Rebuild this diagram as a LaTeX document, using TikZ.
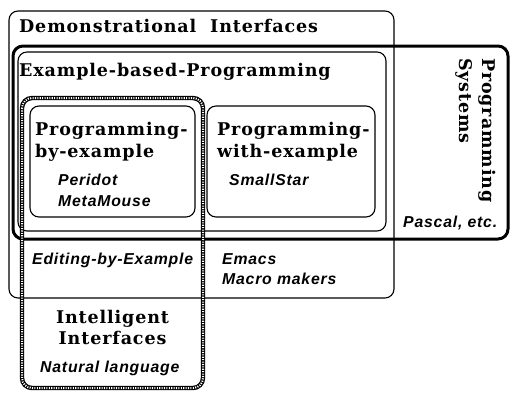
\documentclass[tikz,border=0pt]{standalone}
\usepackage{fontspec}
\newfontfamily\hvfont[LetterSpace=5]{Liberation Sans}
\newfontfamily\serfont[LetterSpace=5]{DejaVu Serif}
\begin{document}
\begin{tikzpicture}[x=1pt,y=-1pt,
  thinbox/.style={draw, line width=1.1pt, rounded corners=9pt},
  progbox/.style={draw, line width=3pt, rounded corners=10pt},
  ttl/.style={font=\serfont\fontsize{17.5}{20}\selectfont\bfseries, anchor=base west, inner sep=0pt},
  ex/.style={font=\hvfont\fontsize{15.8}{18}\selectfont\bfseries\itshape, anchor=base west, inner sep=0pt}]
\useasboundingbox (0,0) rectangle (510,392);
% Demonstrational Interfaces
\draw[thinbox] (9,11) rectangle (394,298);
% Programming Systems
\draw[progbox] (13,46) rectangle (508,239);
% Example-based-Programming
\draw[thinbox] (18,52) rectangle (386,231);
% inner boxes
\draw[thinbox] (30,106) rectangle (195,217);
\draw[thinbox] (207,106) rectangle (375,217);
% Intelligent Interfaces (patterned border)
\draw[line width=4.4pt, black, rounded corners=10pt] (22,98) rectangle (203,388);
\draw[line width=2pt, white, dash pattern=on 1.1pt off 1.3pt, rounded corners=10pt] (22,98) rectangle (203,388);

\node[ttl] (demo) at (19,32) {Demonstrational\ \ Interfaces};
\node[ttl] (ebp) at (19,76) {Example-based-Programming};
\node[ttl] (pbe1) at (35,135) {Programming-};
\node[ttl] (pbe2) at (35,157) {by-example};
\node[ex] (peridot) at (58,185) {Peridot};
\node[ex] (meta) at (58,206) {MetaMouse};
\node[ttl] (pwe1) at (217,135) {Programming-};
\node[ttl] (pwe2) at (217,157) {with-example};
\node[ex] (small) at (229,185) {SmallStar};
\node[ttl, rotate=-90] (ps1) at (482,58) {Programming};
\node[ttl, rotate=-90] (ps2) at (459,58) {Systems};
\node[ex] (pascal) at (403,227) {Pascal,\ etc.};
\node[ex] (edit) at (32,264) {Editing-by-Example};
\node[ex] (emacs) at (222,264) {Emacs};
\node[ex] (macro) at (222,284) {Macro\ makers};
\node[ttl, anchor=base] (ii1) at (112.5,323) {Intelligent};
\node[ttl, anchor=base] (ii2) at (112.5,344) {Interfaces};
\node[ex] (nat) at (40,372) {Natural language};
\end{tikzpicture}
\end{document}
